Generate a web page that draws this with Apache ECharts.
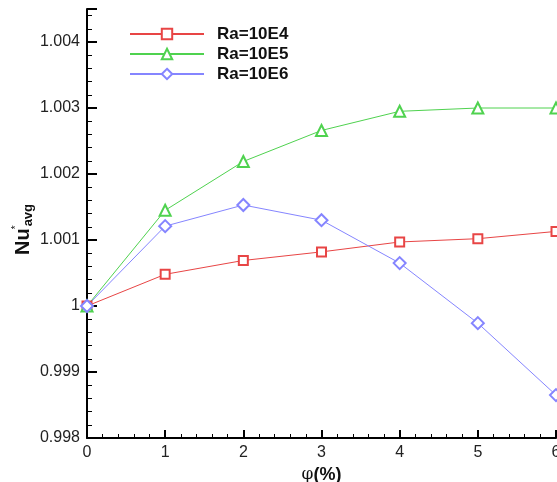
<!DOCTYPE html>
<html>
<head>
<meta charset="utf-8">
<script src="https://cdn.jsdelivr.net/npm/echarts@6/dist/echarts.min.js"></script>
<style>
  html, body { margin: 0; padding: 0; background: #fff; }
  #chart { width: 557px; height: 482px; }
</style>
</head>
<body>
<div id="chart"></div>
<script>
// volume fraction phi (%)
var phi = [0, 1, 2, 3, 4, 5, 6]
// average Nusselt ratio for each Rayleigh number
var ra4 = [1.0, 1.00048, 1.00069, 1.00082, 1.00097, 1.00102, 1.00113]
var ra5 = [1.0, 1.00145, 1.00219, 1.00266, 1.00295, 1.003, 1.003]
var ra6 = [1.0, 1.00121, 1.00153, 1.0013, 1.00065, 0.99974, 0.99865]
var seriesNames = ['Ra=10E4', 'Ra=10E5', 'Ra=10E6']

function pairs (ys) {
  return phi.map(function (x, i) { return [x, ys[i]] })
}

var myChart = echarts.init(document.getElementById('chart'))

function lineSeries (name, data, color, symbol, size) {
  return {
    name: name,
    type: 'line',
    data: pairs(data),
    symbol: symbol,
    symbolSize: size,
    showAllSymbol: true,
    lineStyle: { color: color, width: 1 },
    itemStyle: { color: color, borderColor: color, borderWidth: 1 },
    emphasis: { disabled: true },
    animation: false
  }
}

var option = {
  backgroundColor: '#fff',
  animation: false,
  grid: { left: 87, right: 1, top: 9, bottom: 44, outerBoundsMode: 'none', containLabel: false },
  legend: {
    left: 129,
    top: 24,
    padding: 0,
    orient: 'vertical',
    itemWidth: 74,
    itemHeight: 13,
    itemGap: 0,
    textStyle: { fontFamily: 'Arial, Liberation Sans', fontWeight: 'bold', fontSize: 17, color: '#111', padding: [0, 0, 0, 8], lineHeight: 20 },
    data: seriesNames
  },
  xAxis: {
    type: 'value',
    min: 0,
    max: 6,
    interval: 1,
    minorTick: { show: true, splitNumber: 5, length: 4, lineStyle: { color: '#000', width: 1 } },
    splitLine: { show: false },
    axisLine: { onZero: false, lineStyle: { color: '#000', width: 2 } },
    axisTick: { inside: true, length: 8, lineStyle: { color: '#000', width: 2 } },
    axisLabel: { fontFamily: 'Arial, Liberation Sans', fontSize: 16, color: '#222', margin: 7 },
    name: '{phi|φ}{pct|(%)}',
    nameLocation: 'middle',
    nameGap: 25,
    nameTextStyle: {
      rich: {
        phi: { fontFamily: 'DejaVu Serif, serif', fontSize: 17, color: '#111' },
        pct: { fontFamily: 'Arial, Liberation Sans', fontWeight: 'bold', fontSize: 18, color: '#111' }
      }
    }
  },
  yAxis: {
    type: 'value',
    min: 0.998,
    max: 1.0045,
    interval: 0.001,
    minorTick: { show: true, splitNumber: 5, length: 5, lineStyle: { color: '#000', width: 1 } },
    splitLine: { show: false },
    axisLine: { onZero: false, lineStyle: { color: '#000', width: 2 } },
    axisTick: { inside: true, length: 10, lineStyle: { color: '#000', width: 2 } },
    axisLabel: {
      fontFamily: 'Arial, Liberation Sans',
      fontSize: 16,
      color: '#222',
      margin: 7,
      formatter: function (v) {
        if (Math.abs(v - 1.0045) < 1e-9) return ''
        return String(parseFloat(v.toFixed(4)))
      }
    },
    name: '{nu|Nu}{sup|*}{sub|avg}',
    nameLocation: 'middle',
    nameRotate: 90,
    nameGap: 52,
    nameMoveOverlap: false,
    nameTextStyle: {
      padding: [0, 12, 0, 0],
      rich: {
        nu: { fontFamily: 'Arial, Liberation Sans', fontWeight: 'bold', fontSize: 20, color: '#111', lineHeight: 24, verticalAlign: 'middle' },
        sup: { fontFamily: 'Arial, Liberation Sans', fontSize: 10, color: '#111', lineHeight: 24, verticalAlign: 'top', width: 2 },
        sub: { fontFamily: 'Arial, Liberation Sans', fontWeight: 'bold', fontSize: 13, color: '#111', lineHeight: 24, verticalAlign: 'bottom' }
      }
    }
  },
  series: [
    lineSeries(seriesNames[0], ra4, '#e84545', 'emptyRect', 9),
    lineSeries(seriesNames[1], ra5, '#4fd24f', 'emptyTriangle', 11),
    lineSeries(seriesNames[2], ra6, '#8585ff', 'emptyDiamond', 12)
  ]
}

myChart.setOption(option)
window.addEventListener('resize', function () {
  myChart.resize()
})
</script>
</body>
</html>
